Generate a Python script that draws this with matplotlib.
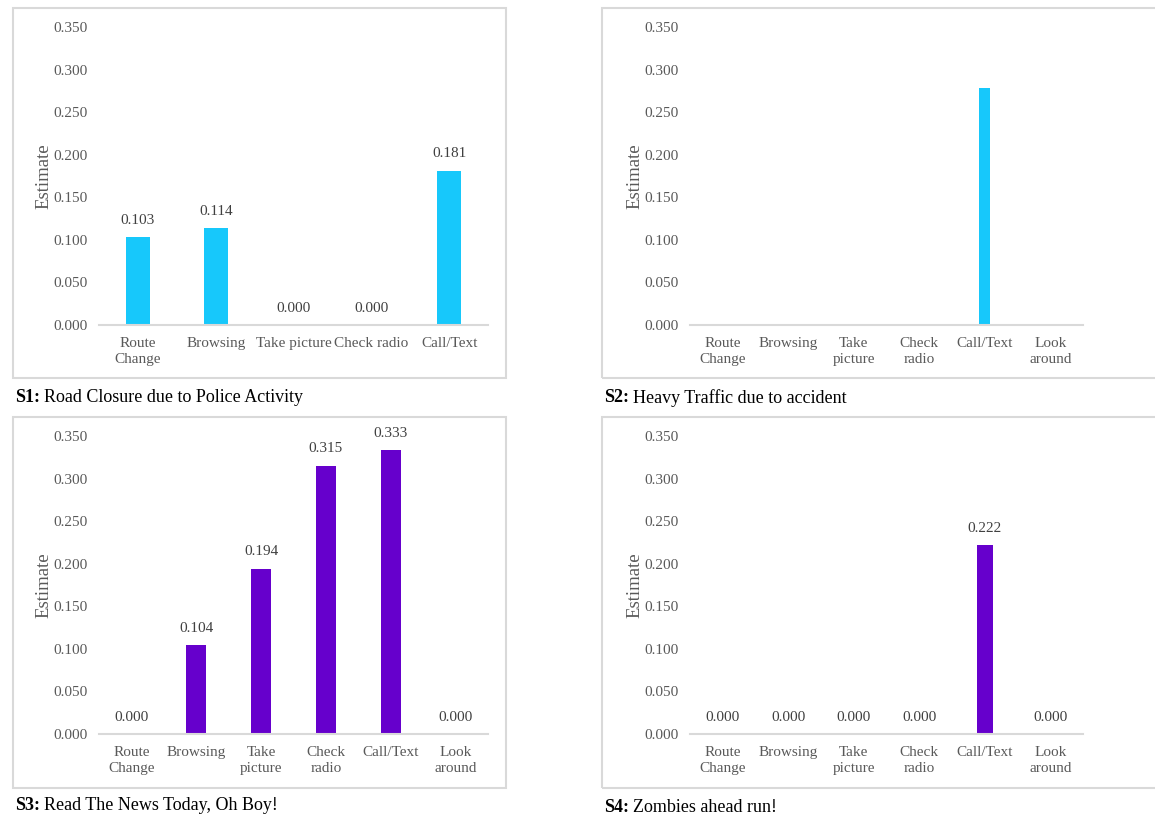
import matplotlib
matplotlib.use('Agg')
import matplotlib.pyplot as plt
from matplotlib.patches import Rectangle

plt.rcParams['font.family'] = ['Liberation Serif', 'DejaVu Serif']

# categories
cats5 = ['Route\nChange', 'Browsing', 'Take picture', 'Check radio', 'Call/Text']
cats6 = ['Route\nChange', 'Browsing', 'Take\npicture', 'Check\nradio', 'Call/Text', 'Look\naround']

# estimates per scenario
s1_vals = [0.103, 0.114, 0.000, 0.000, 0.181]
s2_vals = [0.000, 0.000, 0.000, 0.000, 0.278, 0.000]
s3_vals = [0.000, 0.104, 0.194, 0.315, 0.333, 0.000]
s4_vals = [0.000, 0.000, 0.000, 0.000, 0.222, 0.000]

yticks = [0.0, 0.05, 0.10, 0.15, 0.20, 0.25, 0.30, 0.35]

tags = ['S1:', 'S2:', 'S3:', 'S4:']
titles = ['Road Closure due to Police Activity',
          'Heavy Traffic due to accident',
          'Read The News Today, Oh Boy!',
          'Zombies ahead run!']

CYAN = '#17c8fb'
PURPLE = '#6600cc'
GREY = '#595959'

W, H = 1155, 818
fig = plt.figure(figsize=(W / 100, H / 100), dpi=100, facecolor='white')


def px_rect(x0, y0, x1, y1):
    # pixel box (from top-left) -> figure fraction [l, b, w, h]
    return [x0 / W, 1 - y1 / H, (x1 - x0) / W, (y1 - y0) / H]


def panel(box, axbox, cats, vals, color, bw, show_labels):
    l, b, w, h = px_rect(*box)
    fig.add_artist(Rectangle((l, b), w, h, transform=fig.transFigure,
                             fill=False, ec='#d9d9d9', lw=1.5))
    ax = fig.add_axes(px_rect(*axbox))
    x = range(len(cats))
    ax.bar(x, vals, width=bw, color=color)
    ax.set_xlim(-0.5, len(cats) - 0.5)
    ax.set_ylim(0, 0.35)
    ax.set_yticks(yticks)
    ax.set_yticklabels(['%.3f' % t for t in yticks])
    ax.set_xticks(list(x))
    ax.set_xticklabels(cats, linespacing=1.3)
    for s in ['top', 'right', 'left']:
        ax.spines[s].set_visible(False)
    ax.spines['bottom'].set_color('#d9d9d9')
    ax.spines['bottom'].set_linewidth(1.5)
    ax.tick_params(axis='both', length=0, labelsize=11, colors=GREY)
    ax.tick_params(axis='y', pad=8)
    ax.tick_params(axis='x', pad=8.5)
    ax.set_ylabel('Estimate', fontsize=13.5, color=GREY, labelpad=1)
    ax.patch.set_alpha(0)
    if show_labels:
        for i, v in enumerate(vals):
            ax.annotate('%.3f' % v, (i, v), xytext=(0, 7.5), textcoords='offset points',
                        ha='center', va='bottom', fontsize=11, color='#404040')
    return ax


panel((13, 8, 506, 378), (99, 27, 488, 325), cats5, s1_vals, CYAN, 0.31, True)
panel((602, 8, 1165, 378), (690, 27, 1083, 325), cats6, s2_vals, CYAN, 0.17, False)
panel((13, 417, 506, 788), (99, 436, 488, 734), cats6, s3_vals, PURPLE, 0.31, True)
panel((602, 417, 1165, 788), (690, 436, 1083, 734), cats6, s4_vals, PURPLE, 0.25, True)

# captions under each panel: bold tag followed by plain text
renderer = fig.canvas.get_renderer()
caption_pos = [(15, 397), (604, 398), (15, 806), (604, 808)]
for (cx, cy), tag, t in zip(caption_pos, tags, titles):
    tt = fig.text(cx / W, 1 - cy / H, tag, fontsize=13, weight='bold', va='center', color='black')
    bb = tt.get_window_extent(renderer)
    fig.text((bb.x1 + 4) / W, 1 - cy / H, t, fontsize=13, va='center', color='black')

fig.savefig('out.png', dpi=100, facecolor='white')
